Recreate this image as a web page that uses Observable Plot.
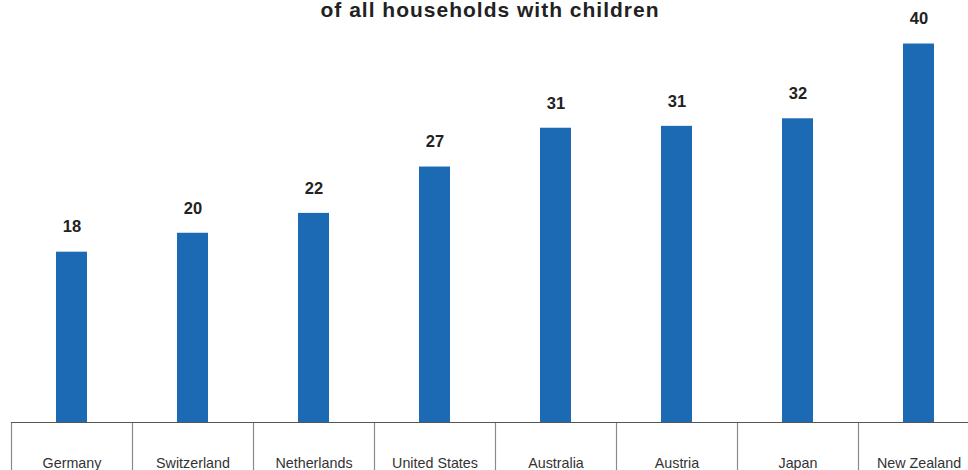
<!DOCTYPE html>
<html>
<head>
<meta charset="utf-8">
<script src="https://cdn.jsdelivr.net/npm/d3@7"></script>
<script src="https://cdn.jsdelivr.net/npm/@observablehq/plot@0.6"></script>
<style>
  html, body { margin: 0; padding: 0; background: #fff; }
  #chart svg { display: block; }
</style>
</head>
<body>
<div id="chart"></div>
<script>
const titleLine = "of all households with children";
const countries = ["Germany", "Switzerland", "Netherlands", "United States", "Australia", "Austria", "Japan", "New Zealand"];
const values = [18.0, 20.0, 22.1, 27.0, 31.1, 31.3, 32.1, 40.0];
const valueLabels = ["18", "20", "22", "27", "31", "31", "32", "40"];

const data = countries.map((c, i) => ({country: c, value: values[i], label: valueLabels[i]}));

const font = "'Liberation Sans', Arial, Helvetica, sans-serif";

const chart = Plot.plot({
  width: 968,
  height: 470,
  marginTop: 0,
  marginBottom: 48,
  marginLeft: 11,
  marginRight: 0,
  style: {fontFamily: font, background: "#fff"},
  x: {domain: countries, range: [11, 979], padding: 0, axis: null},
  y: {domain: [0, 44.6], axis: null},
  marks: [
    Plot.barY(data, {x: "country", y: "value", fill: "#1b6ab3", insetLeft: 45, insetRight: 45}),
    Plot.ruleX(data, {x: "country", dx: -60.5, y1: 0, y2: -6, stroke: "#8a8a8a", strokeWidth: 1.2}),
    Plot.ruleY([0], {stroke: "#555", strokeWidth: 1.2}),
    Plot.text(data, {x: "country", y: "value", text: "label", dy: -25, fontSize: 16.5, fontWeight: "bold", fill: "#222"}),
    Plot.text(data, {x: "country", y: 0, text: "country", dy: 41, fontSize: 14.3, fill: "#333"}),
    Plot.text([titleLine], {frameAnchor: "top", lineAnchor: "top", dx: 0, dy: 2, fontSize: 21, fontWeight: "bold", fill: "#222"})
  ]
});
document.getElementById("chart").append(chart);
// letter spacing on title
d3.select(chart).selectAll("text").filter(function() { return this.textContent === titleLine; }).style("letter-spacing", "1px");
</script>
</body>
</html>
